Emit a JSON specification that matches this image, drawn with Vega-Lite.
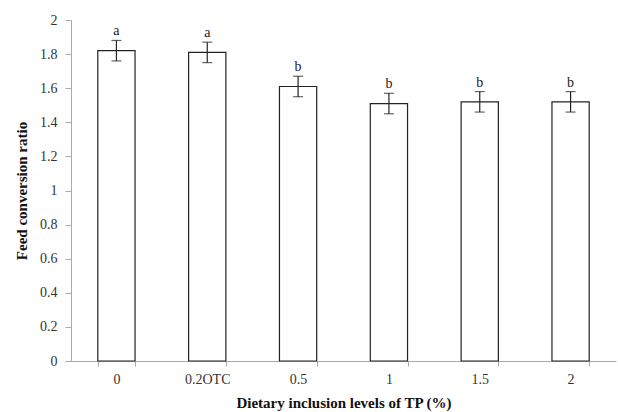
{
  "$schema": "https://vega.github.io/schema/vega-lite/v6.json",
  "width": 545,
  "height": 341,
  "autosize": "none",
  "padding": {"left": 71, "top": 20, "right": 2, "bottom": 51},
  "background": "white",
  "config": {"view": {"stroke": null}, "font": "Liberation Serif",
    "axisY": {"title": "Feed conversion ratio", "values": [0,0.2,0.4,0.6,0.8,1,1.2,1.4,1.6,1.8,2],
         "format": "~g", "grid": false, "labelOverlap": false,
         "labelFont": "Liberation Serif", "labelFontSize": 14, "labelColor": "#333", "labelPadding": 8,
         "titleFont": "Liberation Serif", "titleFontSize": 15, "titleFontWeight": "bold", "titleColor": "#111",
         "domainColor": "#aaa", "tickColor": "#aaa", "tickSize": 6, "titlePadding": 10}},
  "data": {"values": [
    {"level": "0", "fcr": 1.82, "err": 0.06, "sig": "a"},
    {"level": "0.2OTC", "fcr": 1.81, "err": 0.06, "sig": "a"},
    {"level": "0.5", "fcr": 1.61, "err": 0.06, "sig": "b"},
    {"level": "1", "fcr": 1.51, "err": 0.06, "sig": "b"},
    {"level": "1.5", "fcr": 1.52, "err": 0.06, "sig": "b"},
    {"level": "2", "fcr": 1.52, "err": 0.06, "sig": "b"}
  ]},
  "transform": [
    {"calculate": "datum.fcr - datum.err", "as": "lo"},
    {"calculate": "datum.fcr + datum.err", "as": "hi"}
  ],
  "encoding": {
    "x": {"field": "level", "type": "nominal", "sort": null,
      "scale": {"paddingInner": 0.59, "paddingOuter": 0.295},
      "axis": {"title": "Dietary inclusion levels of TP (%)", "labelAngle": 0,
        "labelFont": "Liberation Serif", "labelFontSize": 14, "labelColor": "#333",
        "titleFont": "Liberation Serif", "titleFontSize": 15, "titleFontWeight": "bold", "titleColor": "#111",
        "domainColor": "#aaa", "tickColor": "#aaa", "tickBand": "extent", "tickSize": 5,
        "labelPadding": 6, "titlePadding": 9}}
  },
  "layer": [
    {"mark": {"type": "bar", "fill": "white", "stroke": "#222", "strokeWidth": 1.2},
     "encoding": {"y": {"field": "fcr", "type": "quantitative", "title": "Feed conversion ratio",
       "scale": {"domain": [0, 2]}}}},
    {"mark": {"type": "rule", "color": "#222", "strokeWidth": 1.2},
     "encoding": {"y": {"field": "lo", "type": "quantitative", "title": "Feed conversion ratio"}, "y2": {"field": "hi"}}},
    {"mark": {"type": "tick", "color": "#222", "thickness": 1.2, "size": 10},
     "encoding": {"y": {"field": "lo", "type": "quantitative", "title": "Feed conversion ratio"}}},
    {"mark": {"type": "tick", "color": "#222", "thickness": 1.2, "size": 10},
     "encoding": {"y": {"field": "hi", "type": "quantitative", "title": "Feed conversion ratio"}}},
    {"mark": {"type": "text", "baseline": "bottom", "dy": -2, "fontSize": 14, "font": "Liberation Serif", "color": "#222"},
     "encoding": {"y": {"field": "hi", "type": "quantitative", "title": "Feed conversion ratio"}, "text": {"field": "sig"}}}
  ]
}
